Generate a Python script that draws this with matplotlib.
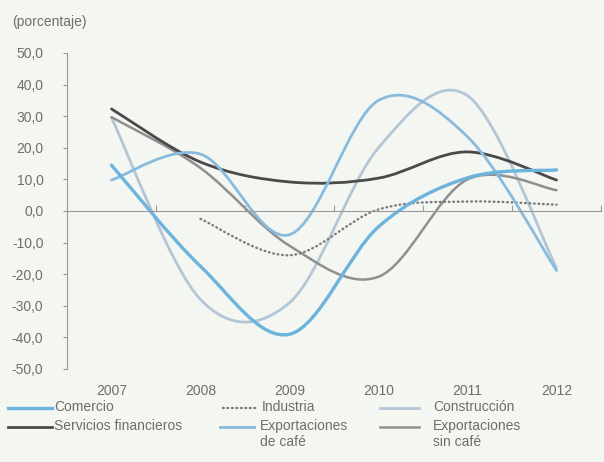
import matplotlib
matplotlib.use('Agg')
import matplotlib.pyplot as plt
from matplotlib.path import Path
from matplotlib.patches import PathPatch
from matplotlib.lines import Line2D
from matplotlib import ticker

plt.rcParams['font.family'] = ['Liberation Sans', 'DejaVu Sans']

years = ['2007', '2008', '2009', '2010', '2011', '2012']
comercio = [14.5, -17.5, -39.0, -5.0, 10.5, 13.0]
industria = [None, -2.5, -14.0, 0.5, 3.0, 2.0]
construccion = [29.5, -28.0, -29.0, 20.0, 36.5, -18.0]
servicios = [32.3, 15.5, 9.2, 10.4, 18.7, 9.8]
cafe = [9.8, 18.0, -7.5, 35.0, 23.5, -18.8]
sin_cafe = [29.7, 13.6, -11.0, -20.8, 10.0, 6.6]

labels = ['Comercio', 'Industria', 'Construcción',
          'Servicios financieros', 'Exportaciones\nde café', 'Exportaciones\nsin café']

BG = '#f4f6f2'
TXT = '#6e6e6e'
AXC = '#9a9a9a'


def smooth_path(values):
    # excel-style smoothed line: cubic bezier through the yearly points
    pts = [(i, v) for i, v in enumerate(values) if v is not None]
    verts = [pts[0]]
    codes = [Path.MOVETO]
    n = len(pts)
    for i in range(n - 1):
        p0 = pts[max(i - 1, 0)]
        p1 = pts[i]
        p2 = pts[i + 1]
        p3 = pts[min(i + 2, n - 1)]
        c1 = (p1[0] + (p2[0] - p0[0]) / 6, p1[1] + (p2[1] - p0[1]) / 6)
        c2 = (p2[0] - (p3[0] - p1[0]) / 6, p2[1] - (p3[1] - p1[1]) / 6)
        verts += [c1, c2, p2]
        codes += [Path.CURVE4] * 3
    return Path(verts, codes)


series = [
    (construccion, dict(color='#b3c6d6', lw=2.0)),
    (sin_cafe, dict(color='#8f8f8f', lw=1.8)),
    (servicios, dict(color='#4a4a4a', lw=2.0)),
    (industria, dict(color='#7a7a7a', lw=1.7, ls=(0, (0.3, 1.6)))),
    (cafe, dict(color='#88bbdd', lw=2.0)),
    (comercio, dict(color='#6cb3de', lw=2.4)),
]

fig = plt.figure(figsize=(6.04, 4.62), dpi=100, facecolor=BG)
ax = fig.add_axes([67 / 604, 1 - 369 / 462, 534 / 604, 316 / 462])
ax.set_facecolor(BG)

for vals, st in series:
    patch = PathPatch(smooth_path(vals), fill=False, edgecolor=st['color'],
                      lw=st['lw'], linestyle=st.get('ls', '-'),
                      capstyle='round', joinstyle='round')
    ax.add_patch(patch)

ax.set_xlim(-0.5, len(years) - 0.5)
ax.set_ylim(-50, 50)

for s in ['top', 'right']:
    ax.spines[s].set_visible(False)
ax.spines['left'].set_color(AXC)
ax.spines['bottom'].set_color(AXC)
ax.spines['bottom'].set_position(('data', 0))

ax.yaxis.set_major_locator(ticker.MultipleLocator(10))
ax.yaxis.set_major_formatter(ticker.FuncFormatter(lambda v, p: f'{v:.1f}'.replace('.', ',')))
ax.tick_params(axis='y', colors=AXC, labelcolor=TXT, labelsize=10, length=3, pad=14)

ax.set_xticks([i - 0.5 for i in range(len(years) + 1)])
ax.tick_params(axis='x', direction='in', colors=AXC, length=4, labelbottom=False)

for i, yr in enumerate(years):
    ax.text(i, -0.07, yr, transform=ax.get_xaxis_transform(),
            ha='center', va='center', color=TXT, fontsize=10)

fig.text(12 / 604, 1 - 22 / 462, '(porcentaje)', ha='left', va='center',
         color=TXT, fontsize=10)

# legend drawn by hand, 3 columns x 2 rows
legend_pos = [
    (8, 52, 54, 408), (223, 257, 262, 408), (380, 419, 433, 408),
    (8, 52, 54, 427), (220, 254, 260, 427), (380, 419, 433, 427),
]
legend_style = [series[5][1], series[3][1], series[0][1],
                series[2][1], series[4][1], series[1][1]]
for lab, (x0, x1, xt, yc), st in zip(labels, legend_pos, legend_style):
    yf = 1 - yc / 462
    ln = Line2D([x0 / 604, x1 / 604], [yf, yf], transform=fig.transFigure,
                color=st['color'], lw=st['lw'], linestyle=st.get('ls', '-'),
                dash_capstyle='round')
    fig.add_artist(ln)
    fig.text(xt / 604, yf + 8 / 462, lab, ha='left', va='top', color=TXT,
             fontsize=10, linespacing=1.15)

fig.savefig('out.png', dpi=100, facecolor=BG)
